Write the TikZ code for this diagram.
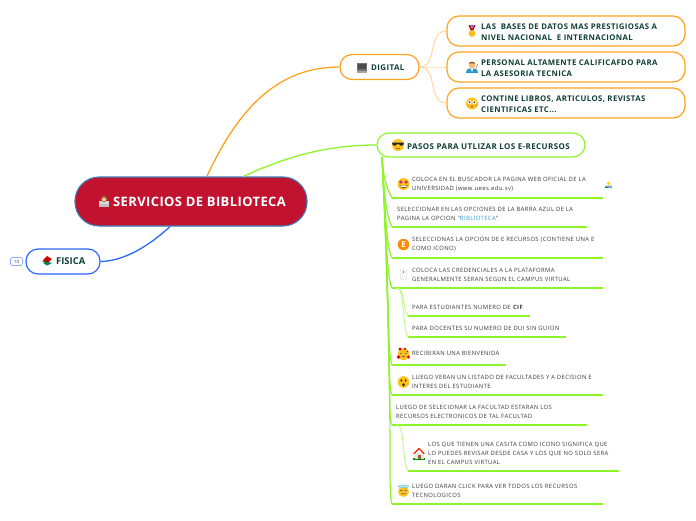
\documentclass[tikz,border=0pt]{standalone}
\usepackage{fontspec}
\setmainfont{Open Sans}
\newfontfamily\lsitem[LetterSpace=6.5]{Open Sans}
\newfontfamily\lsbox[LetterSpace=5]{Open Sans}
\newfontfamily\lsctr[LetterSpace=3]{Open Sans}
\usetikzlibrary{calc}
\definecolor{rojo}{HTML}{C1132F}
\definecolor{azulb}{HTML}{3B7DB8}
\definecolor{naranja}{HTML}{FFA21F}
\definecolor{naranjal}{HTML}{FFD79F}
\definecolor{verde}{HTML}{8FF52B}
\definecolor{verdel}{HTML}{C4FA8E}
\definecolor{azul}{HTML}{2B66FF}
\definecolor{oscuro}{HTML}{103F34}
\definecolor{gris}{HTML}{3A3A3A}
\definecolor{cara}{HTML}{FFC21F}
\definecolor{linkb}{HTML}{3C9AD0}
\tikzset{
  x=1pt,y=-1pt,
  pill/.style={rounded corners=12pt,draw,line width=1.2pt,fill=white,inner sep=0pt},
  central/.style={rounded corners=24pt,draw=azulb,line width=1.1pt,fill=rojo,inner sep=0pt},
  item/.style={anchor=north west,inner sep=0pt,minimum height=#1},
  lbl/.style={anchor=west,align=left,text=gris,inner sep=0pt,font=\lsitem\fontsize{5.9}{9}\selectfont},
  boxlbl/.style={anchor=west,align=left,text=oscuro,inner sep=0pt,font=\lsbox\bfseries\fontsize{7.8}{11}\selectfont},
  ul/.style={draw=verde,line width=1.6pt},
  conn/.style={draw=verde,line width=1.2pt},
  connl/.style={draw=verdel,line width=1pt},
}
\begin{document}
\begin{tikzpicture}
\useasboundingbox (0,0) rectangle (696,520);
\fill[white] (0,0) rectangle (696,520);
% main nodes
\node[central,minimum width=232pt,minimum height=49pt] (ctr) at (191,201.5) {};
\node[pill,draw=azul,minimum width=74pt,minimum height=25pt] (fis) at (63,261.5) {};
\node[draw=azul!55,rounded corners=2pt,line width=.7pt,fill=white,minimum width=12pt,minimum height=8pt,inner sep=0pt,text=gris,font=\fontsize{4.5}{5}\selectfont] (tag) at (16.5,261.5) {14};
\node[pill,draw=naranja,minimum width=79pt,minimum height=25pt] (dig) at (379.5,67) {};
\node[pill,draw=naranja,minimum width=238pt,minimum height=30pt] (b1) at (566,31) {};
\node[pill,draw=naranja,minimum width=238pt,minimum height=30pt] (b2) at (566,67) {};
\node[pill,draw=naranja,minimum width=238pt,minimum height=30pt] (b3) at (566,103) {};
\node[pill,draw=verde,minimum width=208pt,minimum height=24pt] (pas) at (481,145) {};
% main connectors
\draw[naranja,line width=1.3pt] ($(ctr.north west)!.568!(ctr.north east)$) .. controls (240,105) and (280,67) .. (dig.west);
\draw[verde,line width=1.3pt] ($(ctr.north west)!.724!(ctr.north east)$) .. controls (290,155) and (330,145) .. (pas.west);
\draw[azul,line width=1.3pt] ($(ctr.south west)!.41!(ctr.south east)$) .. controls (150,245) and (125,261) .. (fis.east);
\foreach \t in {b1,b2,b3}
  \draw[naranjal,line width=1pt] (dig.east) .. controls (438,67) and ($(\t.west)+(-19,0)$) .. (\t.west);
% items
\coordinate (tr) at (382,157);
\foreach \n/\x/\y/\w/\h in {
 i1/392/172/211/25.5, i2/392/202/195/24.5, i3/392/232/211/25.5, i4/392/262/211/25.5,
 s1/408/298/122/17.5, s2/408/320/158/16.5, i5/392/345/114/19.5, i6/392/370/211/24.5,
 i7/392/400/195/24.5, s3/408/438/211/32.5, i8/392/478/211/25.5}
 \node[item=\h pt,minimum width=\w pt] (\n) at (\x,\y) {};
\foreach \n/\d in {i1/20,i2/40,i3/60,i4/80,i5/120,i6/160,i7/190,i8/240}
 \draw[conn] (tr) to[out=-87,in=120,out distance=\d pt,in distance=10pt] (\n.south west);
\foreach \n in {i1,i2,i3,i4,s1,s2,i5,i6,i7,s3,i8}
 \draw[ul] (\n.south west) -- (\n.south east);
\coordinate (sa) at ($(i4.south west)+(5,0)$);
\coordinate (sb) at ($(i7.south west)+(5,0)$);
\foreach \a/\n in {sa/s1,sa/s2,sb/s3}
 \draw[connl] (\a) .. controls ($(\a)+(8,0)$) and ($(\n.south west)+(-6,-8)$) .. (\n.south west);
% labels
\node[anchor=center,text=white,inner sep=0pt,font=\lsctr\bfseries\fontsize{13}{15}\selectfont] (tc) at (199.5,201.5) {SERVICIOS DE BIBLIOTECA};
\node[anchor=west,text=oscuro,inner sep=0pt,font=\bfseries\fontsize{9.4}{11}\selectfont] (tf) at (56,261.5) {FISICA};
\node[boxlbl,font=\lsbox\bfseries\fontsize{7.9}{11}\selectfont] (td) at (371,67.5) {DIGITAL};
\node[boxlbl] (t1) at (481,32) {LAS\ \ BASES DE DATOS MAS PRESTIGIOSAS A\\NIVEL NACIONAL\ \ E INTERNACIONAL};
\node[boxlbl] (t2) at (481,68) {PERSONAL ALTAMENTE CALIFICAFDO PARA\\LA ASESORIA TECNICA};
\node[boxlbl] (t3) at (481,104) {CONTINE LIBROS, ARTICULOS, REVISTAS\\CIENTIFICAS ETC...};
\node[boxlbl,font=\lsbox\bfseries\fontsize{8}{11}\selectfont] (tp) at (407,146.5) {PASOS PARA UTLIZAR LOS E-RECURSOS};
\node[lbl] (l1) at (412,184.5) {COLOCA EN EL BUSCADOR LA PAGINA WEB OFICIAL DE LA\\UNIVERSIDAD (www.uees.edu.sv)};
\node[lbl] (l2) at (397,214) {SELECCIONAR EN LAS OPCIONES DE LA BARRA AZUL DE LA\\PAGINA LA OPCION "\textcolor{linkb}{BIBLIOTECA}"};
\node[lbl] (l3) at (412,244.5) {SELECCIONAS LA OPCION DE E RECURSOS (CONTIENE UNA E\\COMO ICONO)};
\node[lbl] (l4) at (412,275) {COLOCA LAS CREDENCIALES A LA PLATAFORMA\\GENERALMENTE SERAN SEGUN EL CAMPUS VIRTUAL};
\node[lbl] (l5) at (412,307.5) {PARA ESTUDIANTES NUMERO DE \textbf{CIF}};
\node[lbl] (l6) at (412,328.5) {PARA DOCENTES SU NUMERO DE DUI SIN GUION};
\node[lbl] (l7) at (412,353.5) {RECIBIRAN UNA BIENVENIDA};
\node[lbl] (l8) at (412,382) {LUEGO VERAN UN LISTADO DE FACULTADES Y A DECISION E\\INTERES DEL ESTUDIANTE};
\node[lbl] (l9) at (396,412) {LUEGO DE SELECIONAR LA FACULTAD ESTARAN LOS\\RECURSOS ELECTRONICOS DE TAL FACULTAD};
\node[lbl] (l10) at (428,453.5) {LOS QUE TIENEN UNA CASITA COMO ICONO SIGNIFICA QUE\\LO PUEDES REVISAR DESDE CASA Y LOS QUE NO SOLO SERA\\EN EL CAMPUS VIRTUAL};
\node[lbl] (l11) at (412,491) {LUEGO DARAN CLICK PARA VER TODOS LOS RECURSOS\\TECNOLOGICOS};
% icons
\begin{scope}[shift={(104,201.5)}]
\fill[white!85!black] (-5,-1) rectangle (5,5);
\fill[brown!80!black] (0,-2.5) circle (3.2);
\fill[orange!40!white] (0,-2) circle (2);
\fill[white!75!black] (-5,2) rectangle (5,5.5);
\end{scope}
\begin{scope}[shift={(47,261)}]
\fill[teal] (-4,2) -- (0,4.5) -- (5,2) -- (0,0.5) -- cycle;
\fill[green!50!black] (-5,0) -- (0,2.5) -- (2,1) -- (-2,-1) -- cycle;
\fill[red!80!black] (-4,-1) -- (0,-5) -- (5,-2) -- (1,1.5) -- cycle;
\end{scope}
\begin{scope}[shift={(361.5,67.5)}]
\fill[black!55] (-5,-5) rectangle (5,3);
\fill[black!70] (-4,-4) rectangle (4,1);
\fill[black!35] (-5,3) rectangle (5,5);
\end{scope}
\begin{scope}[shift={(472,31)}]
\fill[red!70!black] (-3.5,-6) -- (-1,0) -- (1,0) -- (3.5,-6) -- (2,-6) -- (0,-2) -- (-2,-6) -- cycle;
\fill[blue!60!gray] (-1,-6) -- (1,-6) -- (0,-3) -- cycle;
\fill[cara!90!orange] (0,2.5) circle (3.4);
\end{scope}
\begin{scope}[shift={(472,67)}]
\fill[azulb!80!cyan] (-6,6) .. controls (-6,2) and (-3,1) .. (0,1) .. controls (3,1) and (6,2) .. (6,6) -- cycle;
\fill[white] (-1.5,1) -- (1.5,1) -- (0,5) -- cycle;
\fill[orange!55!white] (0,-2) circle (3.4);
\fill[brown!70!black] (-3.4,-3) .. controls (-3,-6) and (3,-6) .. (3.4,-3) -- (2,-3.6) -- (-2,-3.6) -- cycle;
\draw[black!50,line width=.5pt] (4,1) -- (6,-3);
\end{scope}
\begin{scope}[shift={(472,103.5)}]
\fill[cara] (0,0) circle (6);
\fill[white] (-2.4,-1.2) circle (2) (2.4,-1.2) circle (2);
\fill[black!80] (-2.4,-1.2) circle (1) (2.4,-1.2) circle (1);
\fill[brown!70!black] (0,3) circle (1.1);
\fill[red!50!orange,opacity=.4] (-4,2) circle (1.2) (4,2) circle (1.2);
\end{scope}
\begin{scope}[shift={(398,145)}]
\fill[cara] (0,0) circle (6);
\fill[black!85] (-6,-2.5) -- (6,-2.5) -- (5.3,-.2) .. controls (4,1.3) and (2,1.2) .. (.8,-.8) -- (-.8,-.8) .. controls (-2,1.2) and (-4,1.3) .. (-5.3,-.2) -- cycle;
\draw[brown!60!black,line width=.5pt] (-2,3.2) .. controls (-1,4.2) and (1,4.2) .. (2,3.2);
\end{scope}
\begin{scope}[shift={(403.5,184)}]
\fill[cara] (0,0) circle (6);
\fill[magenta!70!violet] (-2.6,-2) circle (1.7) (2.6,-2) circle (1.7);
\fill[black!80] (-4,1) .. controls (-2,2.2) and (2,2.2) .. (4,1) .. controls (3.5,5) and (-3.5,5) .. (-4,1) -- cycle;
\fill[white] (-3.2,1.5) .. controls (-1.5,2.3) and (1.5,2.3) .. (3.2,1.5) -- (2.8,2.8) .. controls (1,3.2) and (-1,3.2) .. (-2.8,2.8) -- cycle;
\end{scope}
\begin{scope}[shift={(608.5,184.5)}]
\fill[white!75!gray] (-3,0) rectangle (3,3);
\fill[yellow!70!orange] (0,-1.2) circle (1.7);
\fill[azulb!70!white] (-3.2,1.6) rectangle (3.2,3.2);
\fill[green!55!black] (-3.2,2.6) rectangle (-.8,3.4);
\end{scope}
\node[circle,fill=orange!90!yellow,text=white,inner sep=0pt,minimum size=11.5pt,font=\bfseries\fontsize{8}{8}\selectfont] (ecirc) at (403.5,244.5) {E};
\begin{scope}[shift={(403.5,274.5)}]
\fill[black!12,rounded corners=3.4pt] (-3.7,-6) rectangle (3.7,6);
\fill[black!3,rounded corners=3pt] (-3.2,-5.5) rectangle (3.2,5.5);
\fill[black!50] (-.4,-3.5) rectangle (.4,-1.5);
\end{scope}
\begin{scope}[shift={(403.5,354)}]
\fill[cara] (0,.3) circle (5.8);
\fill[red!85!black] (-3.5,-5) circle (1.6) (1.5,-5.2) circle (1.3) (-5,3) circle (1.8) (5,3) circle (1.6) (4,-2.5) circle (.9);
\draw[black!70,line width=.5pt] (-3.2,-.7) -- (-1.4,-.1) (3.2,-.7) -- (1.4,-.1);
\draw[black!70,line width=.5pt] (-1.5,2) .. controls (-.7,3) and (.7,3) .. (1.5,2);
\end{scope}
\begin{scope}[shift={(403.5,382)}]
\fill[cara] (0,0) circle (5.8);
\fill[black!85] (-2.2,-1.5) ellipse (.9 and 1.4) (2.2,-1.5) ellipse (.9 and 1.4);
\fill[black!85] (0,2.8) ellipse (1.3 and 1.9);
\end{scope}
\begin{scope}[shift={(419,453.5)}]
\fill[green!55!black] (-6,4.5) rectangle (6,6);
\fill[black!10] (-4.5,-.5) rectangle (4.5,5);
\fill[brown!80!black] (-1,1) rectangle (1.5,5);
\fill[red!70!orange] (-6,0) -- (0,-6) -- (6,0) -- (4.5,0.3) -- (0,-4) -- (-4.5,0.3) -- cycle;
\end{scope}
\begin{scope}[shift={(403.5,491)}]
\fill[cara] (0,.5) circle (5.5);
\draw[cyan!55!white,line width=.9pt] (0,-4.6) ellipse (5 and 1.2);
\draw[black!70,line width=.5pt] (-3.2,-.3) .. controls (-2.4,-1.2) and (-1.6,-1.2) .. (-1,-.3) (1,-.3) .. controls (1.6,-1.2) and (2.4,-1.2) .. (3.2,-.3);
\draw[black!70,line width=.5pt] (-2,2.3) .. controls (-1,3.5) and (1,3.5) .. (2,2.3);
\end{scope}
\end{tikzpicture}
\end{document}
